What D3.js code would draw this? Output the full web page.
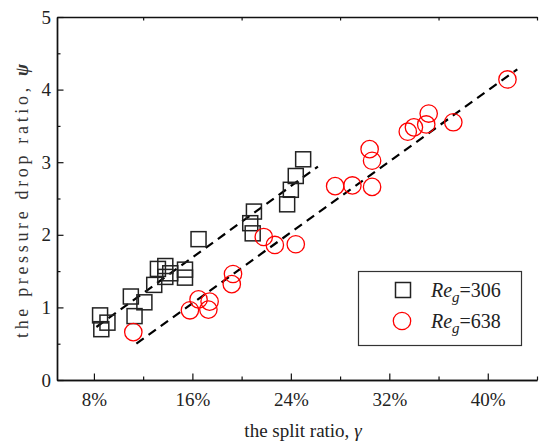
<!DOCTYPE html>
<html>
<head>
<meta charset="utf-8">
<script src="https://cdn.jsdelivr.net/npm/d3@7"></script>
<style>
  body { margin: 0; background: #fff; }
  svg { display: block; }
</style>
</head>
<body>
<svg id="chart" width="540" height="444"></svg>
<script>
// split ratio (%) and pressure drop ratio for Re_g = 306
const gamma306 = [8.5, 9.1, 8.6, 11.0, 11.3, 12.1, 12.9, 13.2, 13.8, 13.8, 14.2, 15.4, 15.4, 16.5, 21.0, 20.7, 20.9, 23.7, 24.0, 24.4, 25.0];
const psi306   = [0.89, 0.79, 0.70, 1.15, 0.88, 1.07, 1.31, 1.53, 1.57, 1.42, 1.47, 1.52, 1.41, 1.94, 2.32, 2.16, 2.02, 2.42, 2.62, 2.81, 3.04];

// split ratio (%) and pressure drop ratio for Re_g = 638
const gamma638 = [11.2, 15.8, 16.5, 17.3, 17.4, 19.3, 19.2, 21.8, 22.7, 24.4, 27.6, 29.0, 30.6, 30.4, 30.6, 33.5, 34.0, 35.0, 35.2, 37.2, 41.6];
const psi638   = [0.66, 0.96, 1.11, 0.97, 1.08, 1.46, 1.32, 1.97, 1.86, 1.87, 2.67, 2.68, 2.66, 3.18, 3.02, 3.42, 3.48, 3.52, 3.67, 3.55, 4.14];

// linear fits, [gamma, psi] endpoints
const fit306 = [[8.2, 0.73], [26.2, 2.94]];
const fit638 = [[11.45, 0.50], [42.4, 4.28]];

const xMajor = [8, 16, 24, 32, 40];
const xMinor = [12, 20, 28, 36, 44];
const yMajor = [0, 1, 2, 3, 4, 5];
const yMinor = [0.5, 1.5, 2.5, 3.5, 4.5];

const FONT = '"Liberation Serif", Tinos, "FreeSerif"';

const svg = d3.select('#chart');
const m = { left: 57, right: 537, top: 17, bottom: 380 };

const x = d3.scaleLinear().domain([5, 44]).range([m.left, m.right]);
const y = d3.scaleLinear().domain([0, 5]).range([m.bottom, m.top]);

// axes
const styleAxis = g => {
  g.select('.domain').attr('stroke', '#111').attr('stroke-width', 1.4);
  g.selectAll('.tick line').attr('stroke', '#111').attr('stroke-width', 1.2);
  g.selectAll('.tick text')
    .style('font-family', FONT)
    .style('font-size', '19px')
    .attr('fill', '#222');
};

svg.append('g')
  .attr('transform', `translate(0,${m.bottom})`)
  .call(d3.axisBottom(x).tickValues(xMajor).tickSize(-6.5).tickSizeOuter(0).tickPadding(12.5).tickFormat(d => d + '%'))
  .call(styleAxis);
svg.append('g')
  .attr('transform', `translate(0,${m.bottom})`)
  .call(d3.axisBottom(x).tickValues(xMinor).tickSize(-3.5).tickSizeOuter(0).tickFormat(''))
  .call(styleAxis);

svg.append('g')
  .attr('transform', `translate(0,${m.top})`)
  .call(d3.axisTop(x).tickValues(xMinor).tickSize(-3.5).tickSizeOuter(0).tickFormat(''))
  .call(styleAxis);

svg.append('g')
  .attr('transform', `translate(${m.left},0)`)
  .call(d3.axisLeft(y).tickValues(yMajor).tickSize(-6.5).tickSizeOuter(0).tickPadding(6).tickFormat(d3.format('d')))
  .call(styleAxis);
svg.append('g')
  .attr('transform', `translate(${m.left},0)`)
  .call(d3.axisLeft(y).tickValues(yMinor).tickSize(-3.5).tickSizeOuter(0).tickFormat(''))
  .call(styleAxis);

// fit lines
const line = d3.line().x(d => x(d[0])).y(d => y(d[1]));
[fit306, fit638].forEach(f => {
  svg.append('path')
    .attr('d', line(f))
    .attr('fill', 'none')
    .attr('stroke', '#000')
    .attr('stroke-width', 2.2)
    .attr('stroke-dasharray', '9,6');
});

// markers
const side = 15;
svg.append('g').selectAll('rect')
  .data(d3.zip(gamma306, psi306))
  .join('rect')
  .attr('x', d => x(d[0]) - side / 2)
  .attr('y', d => y(d[1]) - side / 2)
  .attr('width', side)
  .attr('height', side)
  .attr('fill', 'none')
  .attr('stroke', '#222')
  .attr('stroke-width', 1.5);

svg.append('g').selectAll('circle')
  .data(d3.zip(gamma638, psi638))
  .join('circle')
  .attr('cx', d => x(d[0]))
  .attr('cy', d => y(d[1]))
  .attr('r', 8.7)
  .attr('fill', 'none')
  .attr('stroke', '#ff0000')
  .attr('stroke-width', 1.3);

// axis titles
const xt = svg.append('text')
  .attr('x', 303).attr('y', 437)
  .attr('text-anchor', 'middle')
  .attr('fill', '#222')
  .style('font-family', FONT)
  .style('font-size', '19px');
xt.append('tspan').text('the split ratio, ');
xt.append('tspan').style('font-style', 'italic').text('γ');

const yt = svg.append('text')
  .attr('transform', 'translate(28,201) rotate(-90)')
  .attr('text-anchor', 'middle')
  .attr('textLength', 274)
  .attr('lengthAdjust', 'spacing')
  .attr('fill', '#333')
  .style('font-family', FONT)
  .style('font-size', '18px');
yt.append('tspan').text('the pressure drop ratio, ');
yt.append('tspan').style('font-style', 'italic').style('font-weight', 'bold').text('ψ');

// legend
const legend = svg.append('g');
legend.append('rect')
  .attr('x', 358.5).attr('y', 271.5)
  .attr('width', 163).attr('height', 74)
  .attr('fill', '#fff')
  .attr('stroke', '#333')
  .attr('stroke-width', 1.2);

const labels = ['306', '638'];
labels.forEach((lab, i) => {
  const cy = 290 + i * 31;
  if (i === 0) {
    legend.append('rect')
      .attr('x', 403 - side / 2).attr('y', cy - side / 2)
      .attr('width', side).attr('height', side)
      .attr('fill', 'none').attr('stroke', '#222').attr('stroke-width', 1.5);
  } else {
    legend.append('circle')
      .attr('cx', 402).attr('cy', cy).attr('r', 8.7)
      .attr('fill', 'none').attr('stroke', '#ff0000').attr('stroke-width', 1.3);
  }
  const t = legend.append('text')
    .attr('x', 431).attr('y', cy + 7)
    .attr('fill', '#222')
    .style('font-family', FONT)
    .style('font-size', '20px');
  t.append('tspan').style('font-style', 'italic').text('Re');
  t.append('tspan').style('font-style', 'italic').style('font-size', '15px').attr('dy', 5).text('g');
  t.append('tspan').attr('dy', -5).text('=' + lab);
});
</script>
</body>
</html>
